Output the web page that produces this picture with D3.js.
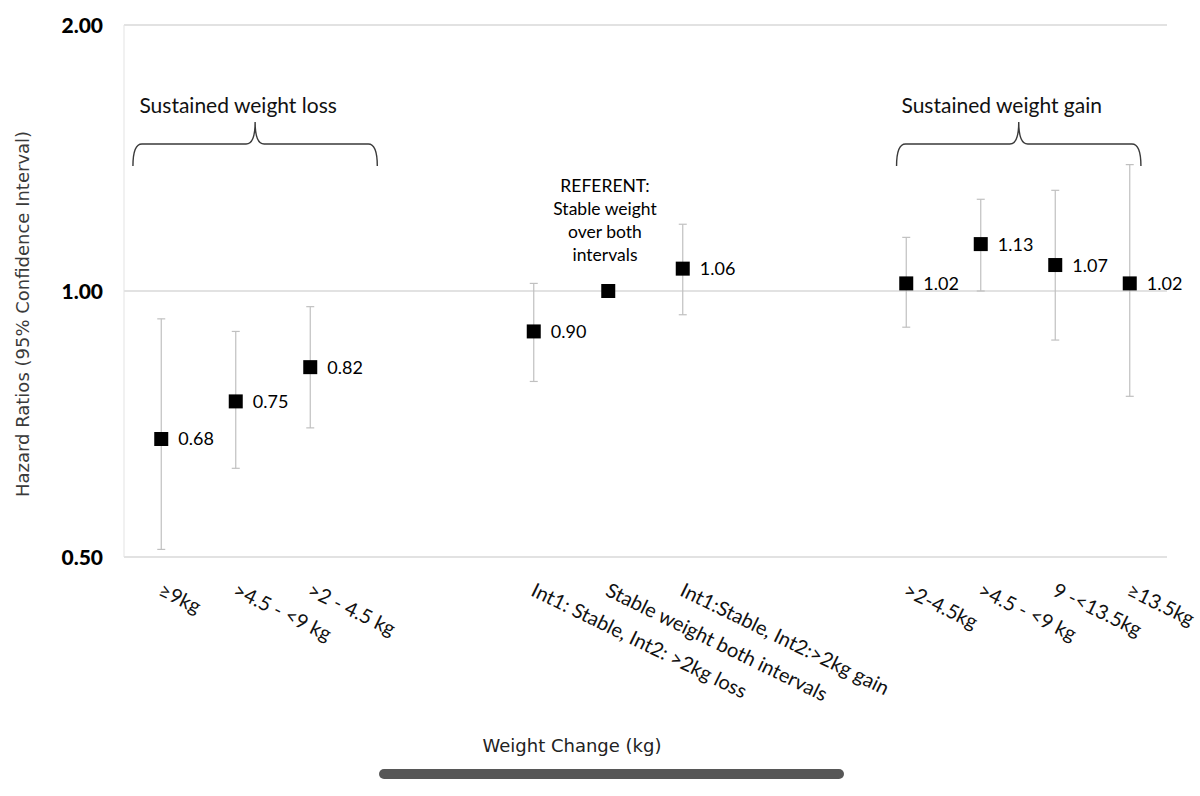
<!DOCTYPE html>
<html>
<head>
<meta charset="utf-8">
<script src="https://cdn.jsdelivr.net/npm/d3@7"></script>
<style>
  body { margin: 0; background: #fff; }
  svg { display: block; }
</style>
</head>
<body>
<main></main>
<script>
// Data (hazard ratios with 95% CI), 14 slots incl. empty gaps

const categories = [
  '≥9kg', '>4.5 - <9 kg', '>2 - 4.5 kg', '', '',
  'Int1: Stable, Int2: >2kg loss', 'Stable weight both intervals', 'Int1:Stable, Int2:>2kg gain', '', '',
  '>2-4.5kg', '>4.5 - <9 kg', '9 -<13.5kg', '≥13.5kg',
];
const hazard = [0.68, 0.75, 0.82, null, null, 0.90, 1.00, 1.06, null, null, 1.02, 1.13, 1.07, 1.02];
const ciLow = [0.51, 0.63, 0.70, null, null, 0.79, null, 0.94, null, null, 0.91, 1.00, 0.88, 0.76];
const ciHigh = [0.93, 0.90, 0.96, null, null, 1.02, null, 1.19, null, null, 1.15, 1.27, 1.30, 1.39];
const yTicks = [0.5, 1, 2];
const groupLabels = ['Sustained weight loss', 'Sustained weight gain'];
const groupSpans = [[-0.38, 2.9], [9.87, 13.15]]; // in slot units
const referentLines = ['REFERENT:', 'Stable weight', 'over both', 'intervals'];

const w = 1200;
const h = 796;
const plotLeft = 124;
const plotRight = 1167;
const plotTop = 25;
const plotBottom = 557;

const svg = d3.select('main').append('svg').attr('width', w).attr('height', h);

const x = d3.scaleBand().domain(d3.range(categories.length)).range([plotLeft, plotRight]);
const xc = (i) => x(i) + x.bandwidth() / 2;
const slot = d3.scaleLinear().domain([0, 1]).range([xc(0), xc(1)]);
const y = d3.scaleLog().base(2).domain([0.5, 2]).range([plotBottom, plotTop]);

const calibri = 'Lato, "Open Sans", sans-serif';
const verdana = '"DejaVu Sans", Verdana, sans-serif';

// gridlines + left border
svg
  .append('g')
  .selectAll('line')
  .data(yTicks)
  .enter()
  .append('line')
  .attr('x1', plotLeft)
  .attr('x2', plotRight)
  .attr('y1', (d) => y(d))
  .attr('y2', (d) => y(d))
  .attr('stroke', '#d9d9d9')
  .attr('stroke-width', 1.3);

svg
  .append('line')
  .attr('x1', plotLeft)
  .attr('x2', plotLeft)
  .attr('y1', plotTop)
  .attr('y2', plotBottom)
  .attr('stroke', '#e3e3e3')
  .attr('stroke-width', 1);

// y tick labels
svg
  .append('g')
  .selectAll('text')
  .data(yTicks)
  .enter()
  .append('text')
  .attr('x', 103)
  .attr('y', (d) => y(d))
  .attr('dy', '0.36em')
  .attr('text-anchor', 'end')
  .style('font-family', calibri)
  .style('font-weight', '900')
  .style('font-size', '21px')
  .text((d) => d3.format('.2f')(d));

// y title
svg
  .append('text')
  .attr('transform', 'translate(29,314) rotate(-90)')
  .attr('text-anchor', 'middle')
  .style('font-family', verdana)
  .style('font-size', '18px')
  .attr('fill', '#3a3a3a')
  .text('Hazard Ratios (95% Confidence Interval)');

// x labels
svg
  .append('g')
  .selectAll('text')
  .data(categories)
  .enter()
  .append('text')
  .attr('transform', (d, i) => `translate(${xc(i) - 4},${plotBottom + 38}) rotate(26)`)
  .style('font-family', calibri)
  .style('font-size', '20px')
  .attr('fill', '#111')
  .text((d) => d);

// x title
svg
  .append('text')
  .attr('x', 572)
  .attr('y', 752)
  .attr('text-anchor', 'middle')
  .style('font-family', verdana)
  .style('font-size', '18px')
  .attr('fill', '#222')
  .text('Weight Change (kg)');

// scrollbar-looking bar
svg
  .append('rect')
  .attr('x', 379)
  .attr('y', 769)
  .attr('width', 465)
  .attr('height', 10)
  .attr('rx', 5)
  .attr('fill', '#575757');

// points
const pts = d3.range(categories.length).filter((i) => hazard[i] !== null);

const bars = svg.append('g').attr('stroke', '#c0c0c0').attr('stroke-width', 1.2);
pts
  .filter((i) => ciLow[i] !== null)
  .forEach((i) => {
    const cx = xc(i);
    bars.append('line').attr('x1', cx).attr('x2', cx).attr('y1', y(ciLow[i])).attr('y2', y(ciHigh[i]));
    [ciLow[i], ciHigh[i]].forEach((v) => {
      bars.append('line').attr('x1', cx - 4).attr('x2', cx + 4).attr('y1', y(v)).attr('y2', y(v));
    });
  });

svg
  .append('g')
  .selectAll('rect')
  .data(pts)
  .enter()
  .append('rect')
  .attr('x', (i) => xc(i) - 7)
  .attr('y', (i) => y(hazard[i]) - 7)
  .attr('width', 14)
  .attr('height', 14)
  .attr('fill', '#000');

svg
  .append('g')
  .selectAll('text')
  .data(pts.filter((i) => ciLow[i] !== null))
  .enter()
  .append('text')
  .attr('x', (i) => xc(i) + 17)
  .attr('y', (i) => y(hazard[i]))
  .attr('dy', '0.36em')
  .style('font-family', calibri)
  .style('font-size', '18px')
  .text((i) => d3.format('.2f')(hazard[i]));

// referent note
svg
  .append('text')
  .attr('text-anchor', 'middle')
  .style('font-family', calibri)
  .style('font-size', '17.5px')
  .selectAll('tspan')
  .data(referentLines)
  .enter()
  .append('tspan')
  .attr('x', 605)
  .attr('y', (d, k) => 192 + k * 23)
  .text((d) => d);

// group braces
groupSpans.forEach((s, k) => {
  const x1 = slot(s[0]);
  const x2 = slot(s[1]);
  const cx = (x1 + x2) / 2;
  const yb = 166;
  const yh = 144;
  const yt = 122;
  svg
    .append('path')
    .attr(
      'd',
      `M${x1},${yb} Q${x1},${yh} ${x1 + 9},${yh} L${cx - 9},${yh} Q${cx},${yh} ${cx},${yt} ` +
        `Q${cx},${yh} ${cx + 9},${yh} L${x2 - 9},${yh} Q${x2},${yh} ${x2},${yb}`
    )
    .attr('fill', 'none')
    .attr('stroke', '#3a3a3a')
    .attr('stroke-width', 1.4);
  svg
    .append('text')
    .attr('x', cx - 17)
    .attr('y', 113)
    .attr('text-anchor', 'middle')
    .style('font-family', calibri)
    .style('font-size', '21px')
    .attr('fill', '#111')
    .text(groupLabels[k]);
});
</script>
</body>
</html>
